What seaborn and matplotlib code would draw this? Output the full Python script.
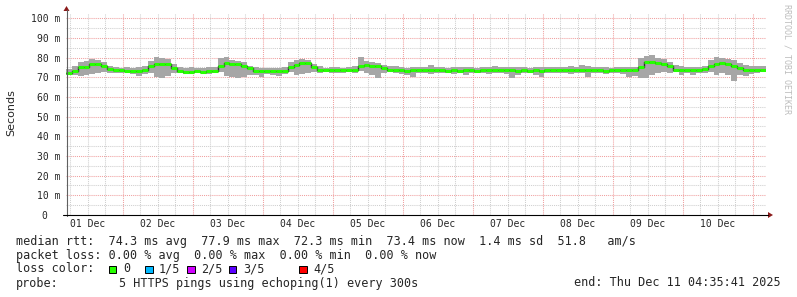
import numpy as np
import pandas as pd
import matplotlib
matplotlib.use("Agg")
import matplotlib.pyplot as plt
import matplotlib.dates as mdates
from matplotlib.lines import Line2D
from matplotlib.patches import Rectangle, Polygon
import seaborn as sns

# ---------------- data ----------------
start_time = "2025-12-01 04:35:41"
end_time = "2025-12-11 04:35:41"
step_hours = 2

median_ms = [
    72.4, 73.0, 75.1, 75.3, 76.8, 77.0, 75.5, 74.0, 73.5, 73.5, 73.3, 73.4,
    73.2, 73.5, 75.7, 76.8, 77.0, 76.8, 74.5, 73.0, 72.9, 72.9, 73.0, 72.8,
    73.0, 73.3, 76.0, 77.5, 77.0, 76.8, 76.0, 74.5, 73.2, 73.0, 73.1, 73.0,
    73.1, 73.3, 75.1, 76.5, 77.2, 77.3, 75.0, 73.8, 73.6, 73.8, 73.7, 73.8,
    73.7, 73.9, 75.7, 76.2, 76.0, 75.8, 74.5, 73.8, 73.6, 73.5, 73.4, 73.6,
    73.7, 73.8, 73.5, 73.6, 73.7, 73.4, 73.5, 73.2, 73.5, 73.6, 73.4, 73.7,
    73.5, 73.8, 73.6, 73.5, 73.6, 73.4, 73.5, 73.3, 73.5, 73.4, 73.6, 73.5,
    73.7, 73.5, 73.6, 73.8, 73.7, 73.5, 73.5, 73.6, 73.4, 73.5, 73.5, 73.6,
    73.5, 73.6, 75.0, 77.7, 77.8, 77.5, 76.6, 75.5, 73.9, 73.8, 73.7, 73.8,
    73.6, 74.0, 75.7, 77.0, 77.3, 77.0, 76.0, 74.5, 73.9, 73.6, 73.8, 73.7,
]
smoke_hi_ms = [
    74.0, 76.0, 78.0, 78.5, 79.5, 79.0, 78.0, 76.0, 75.0, 74.8, 75.0, 74.8,
    75.3, 75.5, 78.5, 80.3, 80.0, 79.5, 77.0, 75.2, 74.8, 75.0, 74.5, 74.8,
    75.0, 75.0, 80.0, 80.2, 79.0, 78.5, 78.0, 76.0, 75.0, 74.5, 74.5, 74.8,
    74.5, 75.0, 78.0, 79.0, 79.3, 79.0, 77.0, 75.5, 74.8, 75.0, 75.0, 74.8,
    75.0, 75.5, 80.5, 78.5, 78.0, 77.5, 76.5, 75.5, 75.5, 75.0, 74.8, 75.0,
    75.2, 75.0, 76.5, 75.0, 75.0, 74.8, 75.0, 75.0, 75.0, 75.0, 74.8, 75.3,
    75.0, 75.5, 75.0, 75.0, 75.2, 75.0, 75.0, 74.8, 75.0, 75.0, 75.0, 75.2,
    75.0, 75.0, 75.5, 75.2, 76.5, 75.5, 75.0, 75.0, 75.0, 74.8, 75.0, 75.0,
    75.0, 75.2, 80.0, 81.0, 81.3, 80.0, 79.5, 78.0, 76.5, 75.5, 75.0, 75.0,
    75.0, 75.5, 79.0, 80.2, 80.0, 79.5, 79.0, 77.5, 76.5, 75.5, 75.5, 75.5,
]
smoke_lo_ms = [
    71.0, 71.0, 70.5, 71.0, 71.5, 72.0, 72.5, 72.0, 72.0, 72.3, 72.5, 71.8,
    70.5, 71.5, 72.0, 70.0, 69.8, 70.5, 72.0, 72.0, 71.6, 71.8, 72.0, 72.2,
    71.5, 72.0, 72.5, 70.5, 70.0, 69.5, 70.0, 71.0, 71.0, 70.0, 71.5, 71.0,
    70.5, 71.5, 72.5, 71.0, 71.5, 72.0, 72.5, 72.3, 72.5, 72.0, 72.3, 72.0,
    72.5, 72.0, 73.0, 72.0, 71.0, 69.5, 72.0, 72.5, 72.0, 71.5, 71.0, 70.0,
    72.2, 72.0, 71.5, 72.0, 72.3, 72.0, 71.8, 72.0, 71.0, 72.3, 72.0, 72.0,
    71.5, 72.0, 72.0, 71.8, 69.5, 71.0, 72.0, 72.0, 71.0, 70.2, 72.0, 72.0,
    72.2, 72.0, 71.8, 72.0, 72.0, 70.2, 72.0, 72.0, 71.5, 72.0, 72.0, 71.8,
    70.0, 70.5, 69.5, 69.5, 71.0, 72.0, 72.5, 72.0, 72.5, 71.0, 72.0, 71.0,
    72.0, 72.0, 72.5, 71.0, 72.0, 71.0, 68.0, 71.0, 70.5, 71.5, 72.0, 72.5,
]

day_label_dates = ["2025-12-01", "2025-12-02", "2025-12-03", "2025-12-04", "2025-12-05",
                   "2025-12-06", "2025-12-07", "2025-12-08", "2025-12-09", "2025-12-10"]
day_labels = ["01 Dec", "02 Dec", "03 Dec", "04 Dec", "05 Dec",
              "06 Dec", "07 Dec", "08 Dec", "09 Dec", "10 Dec"]
ytick_values = [0, 10, 20, 30, 40, 50, 60, 70, 80, 90, 100]
ytick_labels = ["0  ", "10 m", "20 m", "30 m", "40 m", "50 m",
                "60 m", "70 m", "80 m", "90 m", "100 m"]

stats_line1 = "median rtt:  74.3 ms avg  77.9 ms max  72.3 ms min  73.4 ms now  1.4 ms sd  51.8   am/s"
stats_line2 = "packet loss: 0.00 % avg  0.00 % max  0.00 % min  0.00 % now"
loss_title = "loss color:"
loss_labels = ["0", "1/5", "2/5", "3/5", "4/5"]
loss_colors = ["#26ff00", "#00b8ff", "#d000ff", "#5a00ff", "#ff0000"]
probe_title = "probe:"
probe_text = "5 HTTPS pings using echoping(1) every 300s"
end_text = "end: Thu Dec 11 04:35:41 2025"
watermark = "RRDTOOL / TOBI OETIKER"

# ---------------- figure ----------------
W, H = 797, 297
sns.set_style("white")
plt.rcParams["font.family"] = ["DejaVu Sans Mono", "DejaVu Sans"]
fig = plt.figure(figsize=(W / 100, H / 100), dpi=100)
fig.patch.set_facecolor("white")


def P(x, y):
    return (x / W, 1 - y / H)


ax_left, ax_right, ax_top, ax_bot = 66, 766, 13, 215
ax = fig.add_axes([ax_left / W, 1 - ax_bot / H, (ax_right - ax_left) / W, (ax_bot - ax_top) / H])
ax.set_facecolor("white")
for s in ax.spines.values():
    s.set_visible(False)

t0 = pd.Timestamp(start_time)
t1 = pd.Timestamp(end_time)
edges = pd.date_range(t0, periods=len(median_ms) + 1, freq=f"{step_hours}h")
xe = mdates.date2num(edges.to_pydatetime())
ax.set_xlim(mdates.date2num(t0.to_pydatetime()), mdates.date2num(t1.to_pydatetime()))
ymax = (ax_bot - ax_top) / ((215 - 18.3) / 100)
ax.set_ylim(0, ymax)

# grid
for v in range(5, 105, 5):
    ax.axhline(v, color="#f0a0a0" if v % 10 == 0 else "#cfcfcf", lw=0.75,
               ls=(0, (1, 1)), zorder=0)
grid_times = pd.date_range("2025-12-01 06:00", "2025-12-11 00:00", freq="6h")
for gt in grid_times:
    ax.axvline(mdates.date2num(gt.to_pydatetime()),
               color="#f0a0a0" if gt.hour == 0 else "#cfcfcf", lw=0.75,
               ls=(0, (1, 1)), zorder=0)

# smoke
lo = smoke_lo_ms + [smoke_lo_ms[-1]]
hi = smoke_hi_ms + [smoke_hi_ms[-1]]
ax.fill_between(xe, lo, hi, step="post", color="#a6a6a6", lw=0, zorder=2)

# dark median trace + green median (loss 0)
df = pd.DataFrame({"x": xe, "y": median_ms + [median_ms[-1]]})
sns.lineplot(data=df, x="x", y="y", ax=ax, color="#303030", lw=1.0,
             drawstyle="steps-post", estimator=None, zorder=3)
ax.hlines(median_ms, xe[:-1], xe[1:], color=loss_colors[0], lw=2.2, zorder=4)
ax.set_xlabel("")
ax.set_ylabel("")

# ticks
ax.set_yticks(ytick_values)
ax.set_yticklabels(ytick_labels, fontsize=7, family="DejaVu Sans Mono")
noon = [mdates.date2num((pd.Timestamp(d) + pd.Timedelta(hours=12)).to_pydatetime())
        for d in day_label_dates]
ax.set_xticks(noon)
ax.set_xticklabels(day_labels, fontsize=7, family="DejaVu Sans Mono")
ax.tick_params(axis="y", length=0, pad=4.3)
ax.tick_params(axis="x", length=0, pad=3.2)

# axes lines and arrows
fig.add_artist(Line2D([P(66.5, 0)[0], P(66.5, 0)[0]], [P(0, 216)[1], P(0, 10)[1]],
                      transform=fig.transFigure, color="#606060", lw=0.8))
fig.add_artist(Line2D([P(63, 0)[0], P(768, 0)[0]], [P(0, 215)[1], P(0, 215)[1]],
                      transform=fig.transFigure, color="black", lw=0.8))
fig.add_artist(Polygon([P(63.5, 11), P(69.5, 11), P(66.5, 6)], closed=True,
                       transform=fig.transFigure, color="#8b1a1a", lw=0))
fig.add_artist(Polygon([P(768, 212), P(768, 218), P(773, 215)], closed=True,
                       transform=fig.transFigure, color="#8b1a1a", lw=0))

# labels
fig.text(*P(11, 113), "Seconds", rotation=90, ha="center", va="center",
         fontsize=8, family="DejaVu Sans")
fig.text(*P(787, 4), watermark, rotation=270, ha="center", va="top",
         fontsize=6, color="#bdbdbd", family="DejaVu Sans Mono")

fs = 8.5
fig.text(*P(16, 241), stats_line1, ha="left", va="center", fontsize=fs)
fig.text(*P(16, 255), stats_line2, ha="left", va="center", fontsize=fs)
fig.text(*P(16, 269), loss_title, ha="left", va="center", fontsize=fs)
sq_x = [109, 145, 187, 229, 299]
for xs, c, lab in zip(sq_x, loss_colors, loss_labels):
    x0, y0 = P(xs, 273)
    fig.add_artist(Rectangle((x0, y0), 7.5 / W, 7.5 / H, transform=fig.transFigure,
                             facecolor=c, edgecolor="black", lw=0.7))
    fig.text(*P(xs + 14, 269), lab, ha="left", va="center", fontsize=fs)
fig.text(*P(16, 283), probe_title, ha="left", va="center", fontsize=fs)
fig.text(*P(119, 283), probe_text, ha="left", va="center", fontsize=fs)
fig.text(*P(781, 283), end_text, ha="right", va="center", fontsize=fs)

fig.savefig("out.png", dpi=100, facecolor="white")
